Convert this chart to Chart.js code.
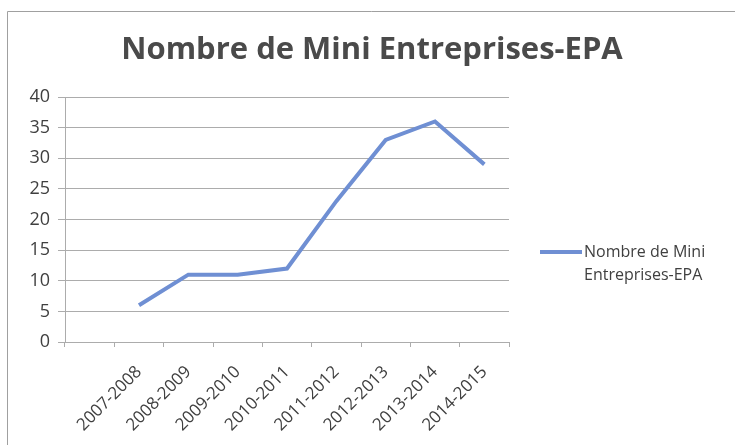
<!DOCTYPE html>
<html>
<head>
<meta charset="utf-8">
<script src="https://cdn.jsdelivr.net/npm/chart.js@4.4.1/dist/chart.umd.min.js"></script>
<style>
    html, body { margin: 0; padding: 0; background: #ffffff; }
    #wrap { position: relative; width: 735px; height: 445px; }
</style>
</head>
<body>
<div id="wrap"><canvas id="chart" width="735" height="445"></canvas></div>
<script>
// first slot is an empty category, as in the original sheet
const seasons = [
    "",
    "2007-2008",
    "2008-2009",
    "2009-2010",
    "2010-2011",
    "2011-2012",
    "2012-2013",
    "2013-2014",
    "2014-2015"
];

const miniEntreprises = [null, 6, 11, 11, 12, 23, 33, 36, 29];

const yTicks = [0, 5, 10, 15, 20, 25, 30, 35, 40];

const chartTitle = "Nombre de Mini Entreprises-EPA";
const seriesName = "Nombre de Mini Entreprises-EPA";

const textColor = "#404040";
const gridColor = "#acacac";
const lineColor = "#6f8fd3";
const fontFamily = "'Open Sans', 'Liberation Sans', sans-serif";

// title, frame and the two-line legend are painted by hand
const decorations = {
    id: "decorations",
    afterDraw(chart) {
        const ctx = chart.ctx;
        ctx.save();

        // scanned frame (top and left edges only)
        ctx.strokeStyle = "#a0a0a0";
        ctx.lineWidth = 1;
        ctx.beginPath();
        ctx.moveTo(7.5, 445);
        ctx.lineTo(7.5, 11.5);
        ctx.lineTo(735, 11.5);
        ctx.stroke();

        // title
        ctx.fillStyle = "#4a4a4a";
        ctx.font = "bold 31px " + fontFamily;
        ctx.textAlign = "center";
        ctx.textBaseline = "middle";
        ctx.fillText(chartTitle, 372, 50);

        // legend
        const ds = chart.data.datasets[0];
        ctx.strokeStyle = ds.borderColor;
        ctx.lineWidth = 4;
        ctx.beginPath();
        ctx.moveTo(540, 252);
        ctx.lineTo(582, 252);
        ctx.stroke();

        ctx.fillStyle = textColor;
        ctx.font = "16px " + fontFamily;
        ctx.textAlign = "left";
        const words = ds.label.split(" ");
        ctx.fillText(words.slice(0, 3).join(" "), 584, 252);
        ctx.fillText(words.slice(3).join(" "), 584, 275);

        ctx.restore();
    }
};

new Chart(document.getElementById("chart"), {
    type: "line",

    data: {
        labels: seasons,
        datasets: [
            {
                label: seriesName,
                data: miniEntreprises,
                borderColor: lineColor,
                backgroundColor: lineColor,
                borderWidth: 4,
                pointRadius: 0,
                tension: 0,
                fill: false
            }
        ]
    },

    options: {
        responsive: false,
        animation: false,

        layout: {
            padding: { top: 97, right: 226, bottom: 0, left: 0 }
        },

        plugins: {
            legend: { display: false },
            title: { display: false },
            tooltip: { enabled: false }
        },

        scales: {
            x: {
                offset: true,
                grid: {
                    offset: true,
                    drawOnChartArea: false,
                    drawTicks: true,
                    tickLength: 5,
                    color: gridColor
                },
                border: { display: true, color: gridColor },
                ticks: {
                    autoSkip: false,
                    minRotation: 45,
                    maxRotation: 45,
                    padding: 15,
                    color: textColor,
                    font: { family: fontFamily, size: 17 }
                },
                afterFit(scale) {
                    scale.height = 103;
                }
            },

            y: {
                min: 0,
                max: 40,
                afterBuildTicks(scale) {
                    scale.ticks = yTicks.map(v => ({ value: v }));
                },
                grid: {
                    color: gridColor,
                    tickLength: 7
                },
                border: { display: true, color: gridColor },
                ticks: {
                    padding: 8,
                    color: textColor,
                    font: { family: fontFamily, size: 18 }
                },
                afterFit(scale) {
                    scale.width = 65;
                }
            }
        }
    },

    plugins: [decorations]
});
</script>
</body>
</html>
